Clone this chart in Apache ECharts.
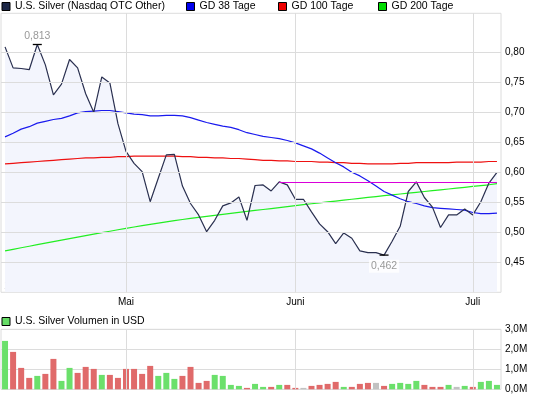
<!DOCTYPE html>
<html>
<head>
<meta charset="utf-8">
<script src="https://cdn.jsdelivr.net/npm/echarts@6/dist/echarts.min.js"></script>
<style>
  html, body { margin: 0; padding: 0; background: #fff; }
  #chart { width: 533px; height: 397px; }
</style>
</head>
<body>
<div id="chart"></div>
<script>
// trading days, index 0..61 (1 Tick = 1 Tag)
const price = [0.809, 0.774, 0.773, 0.771, 0.813, 0.779, 0.729, 0.747, 0.788, 0.774,
  0.731, 0.700, 0.759, 0.749, 0.681, 0.635, 0.615, 0.601, 0.551, 0.590,
  0.629, 0.630, 0.577, 0.548, 0.529, 0.501, 0.520, 0.544, 0.549, 0.559,
  0.520, 0.578, 0.579, 0.569, 0.584, 0.579, 0.555, 0.555, 0.534, 0.514,
  0.501, 0.481, 0.499, 0.490, 0.469, 0.466, 0.466, 0.462, 0.485, 0.510,
  0.568, 0.584, 0.558, 0.542, 0.508, 0.529, 0.529, 0.539, 0.529, 0.551,
  0.582, 0.600];
const gd38 = [0.659, 0.665, 0.672, 0.676, 0.682, 0.685, 0.688, 0.690, 0.694, 0.699,
  0.701, 0.702, 0.703, 0.703, 0.701, 0.699, 0.697, 0.696, 0.694, 0.694,
  0.695, 0.695, 0.694, 0.691, 0.687, 0.683, 0.680, 0.677, 0.675, 0.671,
  0.666, 0.663, 0.660, 0.658, 0.656, 0.653, 0.649, 0.644, 0.639, 0.632,
  0.624, 0.616, 0.609, 0.600, 0.594, 0.586, 0.577, 0.568, 0.562, 0.556,
  0.551, 0.548, 0.544, 0.541, 0.540, 0.539, 0.538, 0.537, 0.533, 0.531,
  0.531, 0.532];
const gd100 = [0.614, 0.615, 0.616, 0.617, 0.618, 0.619, 0.620, 0.621, 0.622, 0.623,
  0.624, 0.624, 0.625, 0.625, 0.626, 0.626, 0.627, 0.627, 0.627, 0.627,
  0.627, 0.627, 0.626, 0.626, 0.625, 0.625, 0.624, 0.624, 0.623, 0.623,
  0.622, 0.621, 0.620, 0.620, 0.619, 0.619, 0.618, 0.618, 0.618, 0.617,
  0.617, 0.616, 0.616, 0.615, 0.615, 0.614, 0.614, 0.614, 0.614, 0.615,
  0.615, 0.616, 0.616, 0.616, 0.616, 0.616, 0.617, 0.617, 0.617, 0.617,
  0.618, 0.618];
const gd200 = [0.469, 0.4716, 0.4742, 0.4768, 0.4794, 0.482, 0.4845, 0.487, 0.4895, 0.492,
  0.4945, 0.497, 0.4994, 0.5018, 0.5042, 0.5065, 0.5088, 0.511, 0.5132, 0.5153,
  0.5174, 0.5194, 0.5213, 0.5231, 0.5249, 0.5266, 0.5283, 0.530, 0.5316, 0.5332,
  0.5348, 0.5364, 0.538, 0.5396, 0.5412, 0.5428, 0.5444, 0.546, 0.5476, 0.5491,
  0.5506, 0.5521, 0.5536, 0.5551, 0.5566, 0.5581, 0.5596, 0.561, 0.5624, 0.5638,
  0.5652, 0.5666, 0.568, 0.5694, 0.5708, 0.5722, 0.5736, 0.575, 0.5764, 0.5778,
  0.5792, 0.5812];
// volume in million USD
const volume = [2.42, 1.87, 1.07, 0.57, 0.67, 0.77, 1.52, 0.42, 1.07, 0.82,
  1.12, 1.02, 0.72, 0.72, 0.57, 1.02, 1.02, 0.77, 1.17, 0.67,
  0.82, 0.52, 0.67, 1.12, 0.32, 0.42, 0.72, 0.67, 0.22, 0.17,
  0.07, 0.27, 0.12, 0.12, 0.22, 0.22, 0.07, 0.07, 0.17, 0.22,
  0.27, 0.37, 0.12, 0.12, 0.27, 0.32, 0.32, 0.17, 0.27, 0.32,
  0.27, 0.42, 0.22, 0.12, 0.12, 0.22, 0.12, 0.17, 0.12, 0.37,
  0.42, 0.22];
const monthIdx = [15, 36, 58];
const monthNames = ['Mai', 'Juni', 'Juli'];
const priceTicks = [0.45, 0.50, 0.55, 0.60, 0.65, 0.70, 0.75, 0.80];
const resistance = 0.584;
const resistanceFrom = 34;

const days = price.map((_, i) => i);

const font = '"Liberation Sans", Arial, sans-serif';
const gridColor = '#dcdcdc';
const up = '#6be06b', down = '#e06a6a', flat = '#c2c2c2';

const volColor = (i) => {
  if (i === 0) return up;
  if (price[i] > price[i - 1]) return up;
  if (price[i] < price[i - 1]) return down;
  return flat;
};

const comma = (v, d) => v.toFixed(d).replace('.', ',');

const legendItem = (left, top, name, color) => ({
  left: left,
  top: top,
  padding: 0,
  icon: 'rect',
  itemWidth: 8,
  itemHeight: 8,
  selectedMode: false,
  textStyle: { fontSize: 10.5, color: '#000', fontFamily: font },
  data: [{ name: name, itemStyle: { color: color, borderColor: '#000', borderWidth: 1 } }]
});

const chart = echarts.init(document.getElementById('chart'));

const option = {
  animation: false,
  textStyle: { fontFamily: font },
  legend: [
    legendItem(1.5, 1, 'U.S. Silver (Nasdaq OTC Other)', '#1c2747'),
    legendItem(186, 1, 'GD 38 Tage', '#0000ee'),
    legendItem(278, 1, 'GD 100 Tage', '#ee0000'),
    legendItem(378, 1, 'GD 200 Tage', '#00dd00'),
    legendItem(1.5, 316, 'U.S. Silver Volumen in USD', '#66dd66')
  ],
  graphic: [{
    type: 'text', left: 4, top: 281,
    style: { text: '1 Tick = 1 Tag', fill: '#aaa', fontSize: 10, fontFamily: font }
  }],
  grid: [
    { left: 1, right: 32, top: 13.3, height: 279, show: true, borderColor: gridColor, borderWidth: 1 },
    { left: 1, right: 32, top: 329.3, height: 60, show: true, borderColor: gridColor, borderWidth: 1 }
  ],
  xAxis: [
    {
      type: 'category', gridIndex: 0, data: days,
      axisLine: { show: false }, axisTick: { show: false }, splitLine: { show: false },
      axisLabel: {
        interval: (i) => monthIdx.includes(i),
        formatter: (v, i) => monthNames[monthIdx.indexOf(i)] || '',
        color: '#000', fontSize: 10, margin: 5
      }
    },
    {
      type: 'category', gridIndex: 1, data: days,
      axisLine: { show: false }, axisTick: { show: false }, axisLabel: { show: false },
      splitLine: { show: false }
    }
  ],
  yAxis: [
    {
      type: 'value', gridIndex: 0, position: 'right', min: 0.40, max: 0.865, interval: 0.05,
      axisLine: { show: false }, axisTick: { show: false }, splitLine: { show: false },
      axisLabel: {
        margin: 4, color: '#000', fontSize: 10,
        formatter: (v) => priceTicks.some(t => Math.abs(t - v) < 1e-6) ? comma(v, 2) : ''
      }
    },
    {
      type: 'value', gridIndex: 1, position: 'right', min: 0, max: 3, interval: 1,
      axisLine: { show: false }, axisTick: { show: false },
      splitLine: { lineStyle: { color: gridColor } },
      axisLabel: { margin: 4, color: '#000', fontSize: 10, formatter: (v) => comma(v, 1) + 'M' }
    }
  ],
  series: [
    {
      name: 'area', type: 'line', xAxisIndex: 0, yAxisIndex: 0, data: price,
      symbol: 'none', silent: true, z: 1,
      lineStyle: { width: 0 },
      areaStyle: { color: '#f3f5fd', opacity: 1 },
      markLine: {
        silent: true, symbol: 'none', animation: false,
        label: { show: false },
        lineStyle: { color: gridColor, type: 'solid', width: 1 },
        data: priceTicks.map(v => ({ yAxis: v })).concat(monthIdx.map(i => ({ xAxis: i })))
      }
    },
    {
      name: 'GD 200 Tage', type: 'line', data: gd200, symbol: 'none', z: 3,
      lineStyle: { color: '#22ee22', width: 1.2 }, itemStyle: { color: '#00dd00' }
    },
    {
      name: 'GD 100 Tage', type: 'line', data: gd100, symbol: 'none', z: 3,
      lineStyle: { color: '#ee1111', width: 1.2 }, itemStyle: { color: '#ee0000' }
    },
    {
      name: 'GD 38 Tage', type: 'line', data: gd38, symbol: 'none', z: 3,
      lineStyle: { color: '#1a1aee', width: 1.2 }, itemStyle: { color: '#0000ee' }
    },
    {
      name: 'U.S. Silver (Nasdaq OTC Other)', type: 'line', data: price, symbol: 'none', z: 4,
      lineStyle: { color: '#2a3050', width: 1.2 }, itemStyle: { color: '#1c2747' },
      markLine: {
        silent: true, symbol: 'none', animation: false,
        label: { show: false },
        lineStyle: { color: '#d900d9', type: 'solid', width: 1 },
        data: [[{ coord: [resistanceFrom, resistance] }, { coord: [price.length - 1, resistance] }]]
      },
      markPoint: {
        silent: true, animation: false,
        symbol: 'rect', symbolSize: [9, 1.3],
        itemStyle: { color: '#000' },
        data: [
          {
            type: 'max',
            label: { show: true, position: 'top', distance: 2, color: '#999', fontSize: 10.5,
              formatter: (p) => comma(p.value, 3) }
          },
          {
            type: 'min',
            label: { show: true, position: 'bottom', distance: 4, color: '#999', fontSize: 10.5,
              backgroundColor: 'rgba(255,255,255,0.8)', padding: [1, 2],
              formatter: (p) => comma(p.value, 3) }
          }
        ]
      }
    },
    {
      name: 'U.S. Silver Volumen in USD', type: 'bar', xAxisIndex: 1, yAxisIndex: 1,
      barWidth: 6, itemStyle: { color: up },
      data: volume.map((v, i) => ({ value: v, itemStyle: { color: volColor(i) } })),
      markLine: {
        silent: true, symbol: 'none', animation: false,
        label: { show: false },
        lineStyle: { color: gridColor, type: 'solid', width: 1 },
        data: monthIdx.map(i => ({ xAxis: i }))
      }
    }
  ]
};

chart.setOption(option);
</script>
</body>
</html>
